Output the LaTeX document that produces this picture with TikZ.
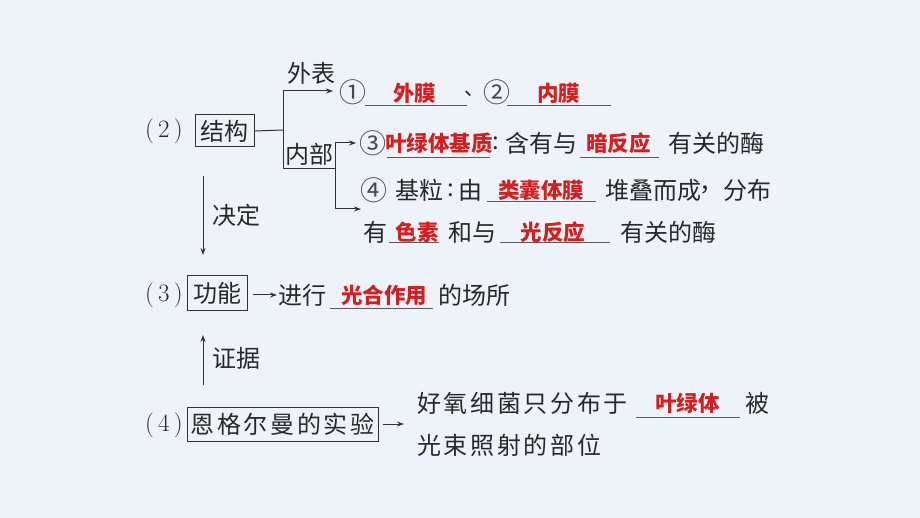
\documentclass[tikz,border=0pt]{standalone}
\usepackage{fontspec}
\usetikzlibrary{arrows.meta}
\newfontfamily\cjk{Noto Sans CJK SC}
\newfontfamily\cjkls{Noto Sans CJK SC}[LetterSpace=11]
\definecolor{bg}{RGB}{238,243,250}
\definecolor{txt}{RGB}{40,40,40}
\definecolor{lc}{RGB}{50,50,50}
\definecolor{ulc}{RGB}{90,90,90}
\definecolor{redt}{RGB}{214,30,30}
\tikzset{
  bt/.style={font=\cjk\fontsize{24}{24}\selectfont, text=txt, inner sep=0pt, anchor=west},
  bls/.style={font=\cjkls\fontsize{24}{24}\selectfont, text=txt, inner sep=0pt, anchor=west},
  circ/.style={font=\cjk\fontsize{27}{27}\selectfont, text=txt!85, inner sep=0pt, anchor=west},
  nt/.style={font=\fontsize{25}{25}\selectfont, text=txt, inner sep=0pt, anchor=west},
  rt/.style={font=\cjk\bfseries\fontsize{21.5}{21.5}\selectfont, text=redt, inner sep=0pt},
  ul/.style={draw=ulc, line width=1pt},
  boxn/.style={draw=lc, line width=1pt, inner sep=0pt, text=txt},
  ln/.style={draw=lc, line width=1pt},
  arr/.style={draw=lc, line width=1pt, -{Stealth[length=7pt,width=5pt]}}
}
\begin{document}
\begin{tikzpicture}[x=1pt,y=-1pt]
\fill[bg] (0,0) rectangle (920,518);
\useasboundingbox (0,0) rectangle (920,518);

% ---------- (2) structure ----------
\node[nt] (p2) at (145,131) {(\,2\,)};
\node[boxn, minimum width=59pt, minimum height=32pt, font=\cjk\fontsize{24}{24}\selectfont] (jg) at (224.5,131) {结构};
\coordinate (j0) at (283,130);
\coordinate (jtop) at (283,91);
\coordinate (jbot) at (283,169);
\coordinate (nbr) at (335,169);
\coordinate (ntop) at (335,143);
\coordinate (nlow) at (335,209);
\coordinate (a4) at (361,209);
\draw[ln] (jg.east) -- (j0);
\draw[ln] (jtop) -- (jbot) -- (nbr);
\draw[ln] (ntop) -- (nlow);
\node[bt, anchor=center] (nb) at (309.5,154) {内部};
\node[bt] (wb) at (287,73) {外表};

% row 1
\node[circ] (c1) at (339,92) {①};
\draw[arr, shorten >=6pt] (jtop) -- (c1.west |- jtop);
\coordinate (u1a) at (365,106); \coordinate (u1b) at (467,106);
\draw[ul] (u1a) -- (u1b);
\node[rt] (r1) at (414.5,93) {外膜};
\node[bt, font=\cjk\fontsize{20}{20}\selectfont] (dun) at (464,94) {、};
\node[circ] (c2) at (483,92) {②};
\coordinate (u2a) at (507,106); \coordinate (u2b) at (611,106);
\draw[ul] (u2a) -- (u2b);
\node[rt] (r2) at (558.5,93) {内膜};

% row 2
\node[circ] (c3) at (359,143) {③};
\draw[arr, shorten >=3pt] (ntop) -- (c3.west);
\node[rt] (r3) at (439,143) {叶绿体基质};
\coordinate (u3a) at (387,158); \coordinate (u3b) at (490,158);
\draw[ul] (u3a) -- (u3b);
\node[bt] (k3) at (492,143) {:};
\node[bt] (t3) at (505,143) {含有与};
\coordinate (u4a) at (580,158); \coordinate (u4b) at (659,158);
\draw[ul] (u4a) -- (u4b);
\node[rt] (r4) at (618.5,143) {暗反应};
\node[bt] (t4) at (668,143) {有关的酶};

% row 3
\node[circ] (c4) at (360,190) {④};
\draw[arr] (nlow) -- (a4);
\node[bt] (t5) at (395,190) {基粒};
\node[bt] (k5) at (447,190) {:};
\node[bt] (t6) at (458,190) {由};
\coordinate (u5a) at (487,202); \coordinate (u5b) at (596,202);
\draw[ul] (u5a) -- (u5b);
\node[rt] (r5) at (541,190) {类囊体膜};
\node[bt] (t7) at (605,190) {堆叠而成};
\node[bt] (k7) at (699,190) {，};
\node[bt] (t8) at (723,190) {分布};

% row 4
\node[bt] (t9) at (363,232) {有};
\coordinate (u6a) at (389,243); \coordinate (u6b) at (439,243);
\draw[ul] (u6a) -- (u6b);
\node[rt] (r6) at (417,232) {色素};
\node[bt] (t10) at (448,232) {和与};
\coordinate (u7a) at (500,243); \coordinate (u7b) at (610,243);
\draw[ul] (u7a) -- (u7b);
\node[rt] (r7) at (553,232) {光反应};
\node[bt] (t11) at (620,232) {有关的酶};

% 决定
\coordinate (d1) at (203,176);
\coordinate (d2) at (203,255);
\draw[arr] (d1) -- (d2);
\node[bt] (jd) at (212,215) {决定};

% ---------- (3) function ----------
\node[nt] (p3) at (145,295) {(\,3\,)};
\node[boxn, minimum width=60pt, minimum height=35pt, font=\cjk\fontsize{24}{24}\selectfont] (gn) at (217,293.5) {功能};
\node[bt] (t12) at (278,295) {进行};
\draw[arr, shorten <=5pt, shorten >=1pt] (gn.east |- t12) -- (t12.west);
\coordinate (u8a) at (330,309); \coordinate (u8b) at (433,309);
\draw[ul] (u8a) -- (u8b);
\node[rt] (r8) at (384,295) {光合作用};
\node[bt] (t13) at (438,295) {的场所};

% 证据
\coordinate (e1) at (203,385);
\coordinate (e2) at (203,335);
\draw[arr] (e1) -- (e2);
\node[bt] (zj) at (212,358) {证据};

% ---------- (4) experiment ----------
\node[nt] (p4) at (145,425) {(\,4\,)};
\node[boxn, minimum width=191pt, minimum height=34pt, font=\cjkls\fontsize{24}{24}\selectfont] (eg) at (282.5,424) {恩格尔曼的实验};
\node[bls] (t14) at (417,403) {好氧细菌只分布于};
\coordinate (a5) at (404,424);
\draw[arr, shorten <=4pt] (eg.east) -- (a5);
\coordinate (u9a) at (636,417); \coordinate (u9b) at (740,417);
\draw[ul] (u9a) -- (u9b);
\node[rt] (r9) at (687.5,403) {叶绿体};
\node[bt] (t15) at (745,403) {被};
\node[bls] (t16) at (417,445) {光束照射的部位};
\end{tikzpicture}
\end{document}
